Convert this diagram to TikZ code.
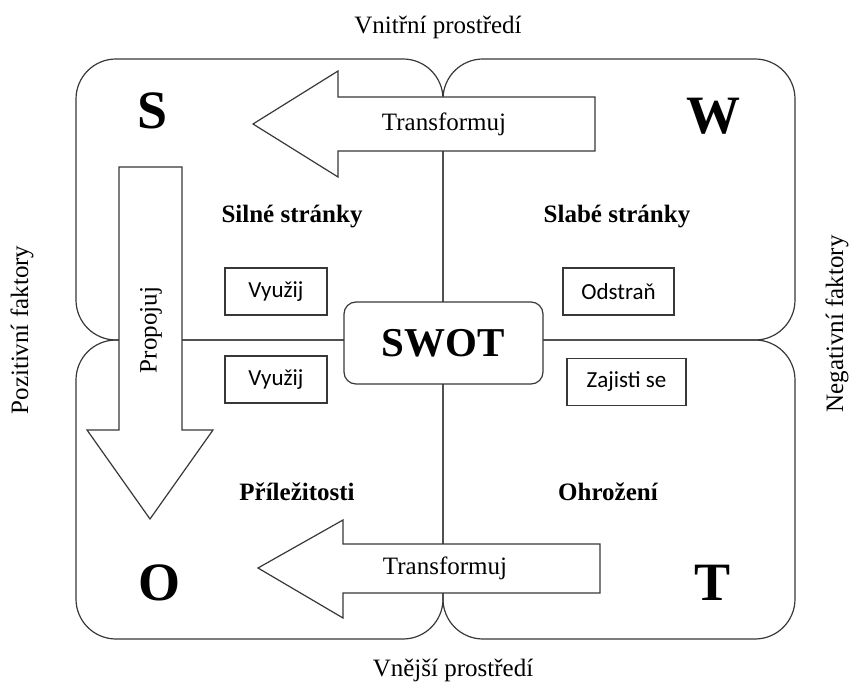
\documentclass[tikz,border=0pt]{standalone}
\usepackage{fontspec}
\setmainfont{Liberation Serif}
\newfontfamily\boxfont{Carlito}
\begin{document}
\begin{tikzpicture}[x=1pt,y=-1pt,
  ln/.style={draw=black!78,line width=1.2pt},
  quad/.style={ln,rounded corners=40pt},
  bigarrow/.style={ln,fill=white,line join=miter},
  letter/.style={font=\fontsize{54}{60}\selectfont\bfseries,inner sep=0pt},
  lbl/.style={font=\fontsize{25}{30}\selectfont\bfseries,inner sep=0pt},
  plain/.style={font=\fontsize{25}{30}\selectfont,inner sep=0pt},
  smallbox/.style={ln,fill=white,inner sep=0pt,font=\boxfont\fontsize{23}{28}\selectfont,minimum height=47pt}
]
\useasboundingbox[fill=white] (0,0) rectangle (849,684);
% quadrants
\draw[quad] (76,59) rectangle (443,340);
\draw[quad] (443,59) rectangle (795,340);
\draw[quad] (76,340) rectangle (443,639);
\draw[quad] (443,340) rectangle (795,639);
% arrows
\draw[bigarrow] (595,97) -- (338,97) -- (338,71) -- (253,124) -- (338,177) -- (338,151) -- (595,151) -- cycle;
\draw[bigarrow] (600,544) -- (343,544) -- (343,520) -- (258,568) -- (343,618) -- (343,593) -- (600,593) -- cycle;
\draw[bigarrow] (119,167) -- (182,167) -- (182,430) -- (213,430) -- (150,519) -- (87,430) -- (119,430) -- cycle;
\node[plain] (t1) at (444,124) {Transformuj};
\node[plain] (t2) at (445,568) {Transformuj};
\node[plain,rotate=90] (prop) at (151,330) {Propojuj};
% centre
\node[ln,fill=white,rounded corners=12pt,minimum width=199pt,minimum height=82pt,inner sep=0pt,
  font=\fontsize{41}{46}\selectfont\bfseries] (swot) at (443.5,343) {SWOT};
% letters
\node[letter] (S) at (153,111) {S};
\node[letter] (W) at (713,116) {W};
\node[letter] (O) at (160,583) {O};
\node[letter] (T) at (713,583) {T};
% labels
\node[lbl] (ss) at (292,217) {Silné stránky};
\node[lbl] (sl) at (617,217) {Slabé stránky};
\node[lbl] (pr) at (297,492) {Příležitosti};
\node[lbl] (oh) at (608,492) {Ohrožení};
% small boxes
\node[smallbox,minimum width=102pt] (v1) at (276,291.5) {Využij};
\node[smallbox,minimum width=102pt] (v2) at (276,379.5) {Využij};
\node[smallbox,minimum width=111pt] (od) at (618.5,291.5) {Odstraň};
\node[smallbox,minimum width=119pt] (za) at (626.5,382) {Zajisti se};
% outer labels
\node[plain,anchor=base] (vn) at (438,34) {Vnitřní prostředí};
\node[plain,anchor=base] (vj) at (453,676) {Vnější prostředí};
\node[plain,rotate=90] (poz) at (22,330) {Pozitivní faktory};
\node[plain,rotate=90] (neg) at (837,324) {Negativní faktory};
\end{tikzpicture}
\end{document}
